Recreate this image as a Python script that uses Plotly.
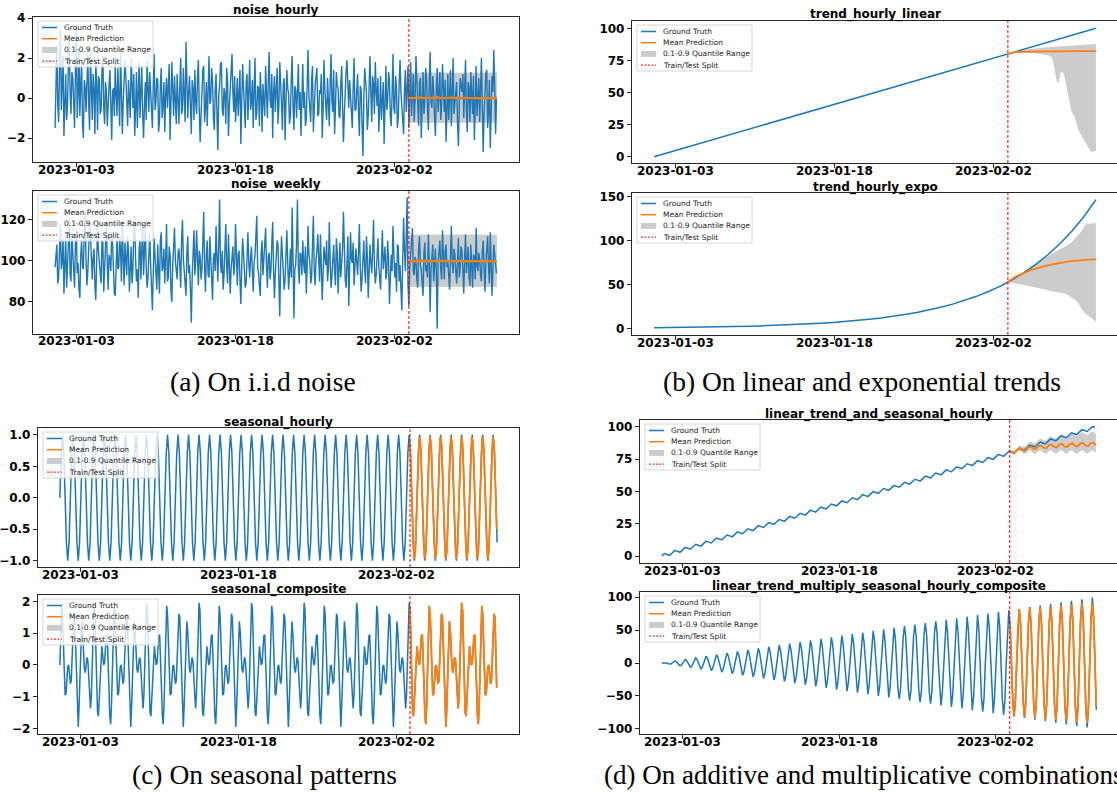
import pandas as pd
import plotly.graph_objects as go

# ---------------------------------------------------------------- data ----
START = "2023-01-01"
SPLIT_HOUR = 800
LAST_HOUR = 999
tick_dates = ["2023-01-03", "2023-01-18", "2023-02-02"]
legend_labels = ["Ground Truth", "Mean Prediction", "0.1-0.9 Quantile Range", "Train/Test Split"]
panel_titles = ["noise_hourly", "noise_weekly", "trend_hourly_linear", "trend_hourly_expo",
                "seasonal_hourly", "seasonal_composite", "linear_trend_and_seasonal_hourly",
                "linear_trend_multiply_seasonal_hourly_composite"]
captions = ["(a) On i.i.d noise", "(b) On linear and exponential trends",
            "(c) On seasonal patterns", "(d) On additive and multiplicative combinations"]

# noise_hourly: ground truth every 2 h from hour 0
noise_hourly_truth = [
    -1.5, 0.9, 2.6, -0.3, -1.2, 1.7, 3.4, -0.6, 0.8, 2.1, -1.9, 0.5, 1.2, -1.1, -0.4, 1.6, 2.9, 0.2, -0.8, 1.3,
    1.0, -0.2, -1.5, 1.4, 3.6, -1.0, 0.2, 2.4, -0.9, 0.7, 1.8, -1.3, -2.0, 0.9, 0.6, -0.7, 1.5, 2.2, -0.3, -1.6,
    2.3, 0.1, -1.1, 1.2, 0.4, -1.8, 1.9, 0.6, -1.6, 1.1, 0.9, -0.8, -0.6, 1.4, 2.1, -0.5, -1.3, 0.8, 0.3, -1.4,
    -0.7, 0.6, 1.4, -1.2, -2.1, 0.3, 0.5, -0.9, 1.7, 0.2, -0.9, 1.5, 0.1, -1.4, 2.4, 0.8, -1.8, -0.2, 0.7, 1.9,
    1.1, -0.3, -1.4, 0.9, 0.2, -1.0, 2.0, 0.4, -0.5, 1.2, -1.9, -0.6, 1.3, -1.5, 0.4, 1.8, -1.0, 0.1, 1.6, -0.8,
    -2.0, -0.4, 0.8, -1.1, 1.9, 0.5, -0.7, 1.3, 0.3, -0.9, -1.5, 0.7, 2.2, -0.6, -0.2, 1.0, 0.9, -1.7, -1.2, 0.6,
    1.5, -1.0, -0.4, 0.8, -1.7, 0.2, 1.0, -0.5, 0.6, 1.7, -2.1, -0.3, 1.8, 0.4, -0.9, 1.1, 0.2, -1.3, 1.2, 0.3,
    -1.3, 0.5, 2.0, -0.8, -0.6, 1.5, 0.4, -1.2, 2.8, 0.7, -1.0, 0.3, 1.1, -0.4, -1.8, 0.9, 0.5, -1.1, 1.4, -0.2,
    -0.8, 1.1, 1.9, -0.6, -2.2, -0.9, 0.3, 1.4, 1.6, -1.2, -0.5, 0.8, -1.4, 0.2, 2.1, -0.3, -0.1, 1.5, 0.9, -1.0,
    -1.6, 0.4, 1.2, -0.8, -2.6, 0.1, 0.6, 1.7, 1.8, -0.6, -0.9, 0.5, 0.2, -1.3, 1.5, 0.8, -1.9, -0.4, 0.4, 1.3,
    2.2, 0.3, -0.7, 1.1, -1.2, -0.2, 1.0, -0.9, 0.3, 1.4, -2.3, -0.5, 1.7, 0.6, -0.4, -1.5, 0.8, 1.2, -1.1, 0.1,
    1.9, -0.6, -0.2, 0.9, -1.5, 0.4, 2.0, -1.1, -0.8, 0.6, 0.5, -1.4, 1.3, 0.2, -1.7, 0.7, 0.1, -0.9, 1.6, 0.3,
    -1.0, 0.8, 2.3, -0.1, -0.5, 1.2, -2.0, 0.3, 1.1, -0.7, 0.6, 1.5, -1.3, -0.4, 1.8, 0.2, -0.3, -1.6, 0.7, 1.0,
    -2.1, -0.2, 1.4, 0.5, 0.2, -1.3, -0.9, 0.9, 2.1, -0.4, -1.6, 0.6, 0.4, -1.0, 1.2, 1.7, -0.6, 0.3, -1.9, 0.8,
    1.7, -0.5, 0.3, -1.4, -1.1, 0.7, 2.4, 0.1, -0.4, -1.2, 0.9, 1.6, -1.7, -0.3, 0.6, 1.1, 1.5, -0.9, -0.8, 0.4,
    0.2, 1.2, -2.0, -0.6, 1.9, 0.4, -0.3, -1.1, 1.0, 0.1, -1.4, 0.8, 2.2, -0.2, -0.7, 1.4, -1.8, -0.5, 1.3, 0.6,
    0.5, -0.9, -1.0, 0.7, 1.6, -0.4, -2.2, -0.8, 0.8, 1.3, 1.9, -0.1, -0.5, 0.9, 0.1, -1.2, -1.5, 0.5, 2.0, -0.6,
    -0.6, 0.3, 1.2, -0.7, -1.9, 0.6, 0.4, -1.3, -2.9, -0.2, 1.5, 0.9, 0.3, -1.6, -0.9, 0.5, 2.1, 0.2, -1.2, 1.1,
    0.7, -0.8, 1.8, 0.4, -0.4, 1.0, -1.7, -0.5, 1.1, -1.1, 0.2, 0.8, -2.3, 0.1, 1.6, -0.6, -0.1, 1.3, 0.9, -0.9,
    -1.4, 0.2, 2.2, -0.5, -0.8, 1.1, 0.5, -1.5, -1.0, 0.7, 1.9, 0.3, -0.3, -1.2, -1.8, 0.4, 1.4, -0.7, 0.6, 1.6,
    -1.5, 0.6, 1.8, -0.9, 0.1, 1.2, -1.2, -0.1, 2.1, 0.5, -0.6, -1.4, 0.8, 1.0, -2.0, 0.3, 1.3, -0.8, -0.2, 1.5,
    0.9, -0.4, -1.6, 0.7, 2.3, -0.2, -0.5, 1.1, 0.4, -1.0, -1.9, 0.5, 1.5, -0.7, 0.2, 1.3, -1.1, -0.3, 1.7, 0.1,
    -0.7, 0.9, -2.2, -0.6, 1.2, -1.1, 0.6, 1.4, -1.4, 0.2, 2.0, -0.8, -0.3, 0.5, 0.8, -1.3, -2.4, -0.2, 1.0, 0.6,
    0.3, 1.2, -1.0, 0.4, 1.9, -0.6, -1.7, 0.8, 0.5, -1.2, 1.3, 0.2, -0.8, 1.1, -2.1, -0.4, 1.6, -0.9, 0.1, 1.0,
    -1.2, 0.5, 2.0, -0.3, -2.7, -0.8, 0.7, 1.2, 1.4, -1.5, -0.6, 0.9, -2.5, -0.4, 1.1, 0.3, 2.4, 0.6, -1.8, 0.0,
]
# test-period arrays every 8 h from hour 799
noise_hourly_pred = [0.02, -0.01, 0.0, 0.03, 0.01, -0.02, 0.0, 0.02, 0.03, 0.01, -0.01, 0.0, 0.02,
                     0.01, -0.02, -0.01, 0.0, 0.01, 0.02, 0.0, -0.02, -0.01, 0.01, 0.02, 0.0, 0.01]
noise_hourly_hi = [1.27, 1.28, 1.27, 1.26, 1.27, 1.28, 1.27, 1.27, 1.26, 1.27, 1.28, 1.27, 1.27,
                   1.26, 1.27, 1.27, 1.28, 1.27, 1.26, 1.27, 1.27, 1.28, 1.27, 1.27, 1.26, 1.27]
noise_hourly_lo = [-1.24, -1.23, -1.24, -1.25, -1.24, -1.23, -1.24, -1.24, -1.25, -1.24, -1.23, -1.24, -1.24,
                   -1.25, -1.24, -1.24, -1.23, -1.24, -1.25, -1.24, -1.24, -1.23, -1.24, -1.24, -1.25, -1.24]

# noise_weekly: ground truth every 2 h from hour 0
noise_weekly_truth = [
    97, 104, 108, 89, 92, 106, 118, 96, 100, 111, 84, 99, 112, 87, 95, 108, 121, 93, 90, 113,
    104, 91, 87, 109, 115, 94, 99, 86, 82, 103, 110, 97, 96, 114, 124, 101, 88, 95, 103, 117,
    113, 97, 91, 102, 106, 88, 81, 99, 117, 105, 98, 92, 89, 110, 109, 85, 94, 107, 119, 98,
    86, 103, 101, 95, 114, 108, 93, 84, 83, 100, 111, 96, 97, 112, 105, 90, 120, 102, 88, 109,
    99, 93, 112, 104, 85, 98, 107, 89, 96, 115, 122, 101, 90, 96, 82, 106, 110, 91, 102, 118,
    93, 105, 116, 97, 87, 92, 104, 113, 99, 88, 76, 94, 111, 102, 95, 86, 108, 99, 84, 110,
    114, 95, 97, 106, 89, 101, 118, 90, 92, 107, 103, 85, 80, 98, 109, 116, 100, 93, 91, 104,
    106, 98, 87, 110, 120, 101, 95, 89, 83, 104, 112, 94, 98, 87, 70, 92, 107, 115, 93, 100,
    115, 96, 88, 105, 102, 91, 96, 109, 124, 97, 85, 103, 110, 93, 92, 112, 99, 86, 81, 101,
    104, 95, 117, 102, 90, 108, 130, 99, 94, 105, 86, 93, 108, 118, 97, 89, 113, 100, 84, 96,
    101, 107, 93, 98, 118, 94, 88, 103, 105, 91, 79, 97, 111, 104, 96, 87, 89, 108, 114, 99,
    92, 101, 107, 95, 85, 99, 103, 112, 122, 97, 94, 88, 83, 104, 110, 93, 99, 106, 116, 98,
    87, 102, 104, 91, 95, 108, 119, 96, 82, 94, 100, 110, 108, 89, 73, 98, 112, 103, 97, 86,
    91, 104, 115, 99, 86, 95, 106, 92, 126, 101, 72, 96, 98, 109, 130, 97, 89, 104, 103, 93,
    110, 99, 94, 107, 84, 97, 117, 103, 100, 89, 92, 108, 122, 95, 88, 101, 105, 113, 96, 90,
    113, 97, 81, 94, 107, 102, 98, 110, 90, 96, 119, 100, 87, 93, 102, 108, 95, 88, 111, 104,
    84, 99, 109, 92, 97, 106, 124, 98, 91, 87, 103, 112, 78, 95, 114, 101, 99, 109, 88, 97,
    106, 100, 93, 104, 118, 97, 85, 91, 101, 110, 96, 89, 112, 103, 82, 95, 108, 99, 94, 105,
    120, 98, 89, 93, 104, 111, 97, 88, 86, 102, 115, 96, 100, 107, 91, 94, 110, 101, 79, 99,
    103, 95, 117, 104, 92, 99, 85, 108, 107, 90, 98, 86, 76, 100, 121, 106, 95, 112, 131, 88,
    78, 97, 104, 108, 116, 95, 93, 102, 100, 91, 87, 106, 112, 98, 96, 89, 83, 104, 109, 95,
    98, 92, 113, 100, 75, 96, 101, 108, 90, 103, 106, 94, 67, 99, 104, 110, 96, 91, 115, 101,
    91, 105, 108, 97, 100, 93, 86, 102, 117, 99, 94, 106, 103, 95, 89, 100, 111, 92, 97, 107,
    105, 96, 84, 101, 113, 94, 99, 107, 92, 88, 108, 100, 87, 103, 102, 91, 116, 98, 95, 104,
    101, 93, 90, 105, 110, 97, 85, 99, 106, 112, 97, 89, 114, 101, 83, 96, 108, 103, 99, 94,
]
noise_weekly_pred = [99.9, 100.0, 99.9, 99.9, 100.0, 99.9, 99.8, 99.9, 99.9, 100.0, 99.9, 99.9, 99.9,
                     99.8, 99.9, 99.9, 100.0, 99.9, 99.9, 99.9, 99.8, 99.9, 99.9, 100.0, 99.9, 99.9]
noise_weekly_hi = [112.8, 112.7, 112.8, 112.9, 112.8, 112.7, 112.8, 112.8, 112.9, 112.8, 112.7, 112.8, 112.8,
                   112.9, 112.8, 112.7, 112.8, 112.8, 112.9, 112.8, 112.8, 112.7, 112.8, 112.8, 112.9, 112.8]
noise_weekly_lo = [87.3, 87.2, 87.3, 87.4, 87.3, 87.2, 87.3, 87.3, 87.4, 87.3, 87.2, 87.3, 87.3,
                   87.4, 87.3, 87.2, 87.3, 87.3, 87.4, 87.3, 87.3, 87.2, 87.3, 87.3, 87.4, 87.3]

# trend_hourly_linear: truth every 27 h from hour 0
linear_truth = [0.0, 2.7, 5.4, 8.1, 10.8, 13.5, 16.2, 18.9, 21.6, 24.3, 27.0, 29.7, 32.4,
                35.1, 37.8, 40.5, 43.2, 45.9, 48.6, 51.4, 54.1, 56.8, 59.5, 62.2, 64.9, 67.6,
                70.3, 73.0, 75.7, 78.4, 81.1, 83.8, 86.5, 89.2, 91.9, 94.6, 97.3, 100.0]
# mean every 8 h from hour 799
linear_pred = [79.9, 80.8, 81.3, 81.6, 81.7, 81.8, 81.8, 81.9, 81.9, 81.9, 81.9, 82.0, 82.0,
               82.0, 82.1, 82.2, 82.2, 82.2, 82.2, 82.2, 82.2, 82.2, 82.2, 82.2, 82.2, 82.2]
# quantiles every 4 h from hour 799
linear_hi = [80.0, 80.6, 81.1, 81.5, 81.9, 82.2, 82.5, 82.7, 82.9, 83.1,
             83.3, 83.5, 83.6, 83.8, 83.9, 84.1, 84.2, 84.4, 84.5, 84.7,
             84.8, 85.0, 85.1, 85.2, 85.4, 85.5, 85.6, 85.7, 85.9, 86.0,
             86.1, 86.2, 86.3, 86.4, 86.5, 86.6, 86.7, 86.8, 86.9, 87.0,
             87.1, 87.2, 87.2, 87.3, 87.4, 87.5, 87.5, 87.6, 87.6, 87.7, 87.7]
linear_lo = [79.9, 80.2, 80.5, 80.7, 80.9, 81.0, 81.0, 81.0, 81.0, 80.9,
             80.9, 80.8, 80.8, 80.7, 80.6, 80.5, 80.4, 80.3, 80.2, 80.0,
             79.8, 79.6, 79.3, 79.0, 78.5, 77.0, 73.0, 65.0, 58.0, 58.0,
             65.5, 66.0, 64.0, 57.0, 50.0, 40.0, 36.0, 33.5, 31.0, 26.0,
             21.0, 18.5, 16.0, 13.5, 11.5, 9.5, 6.0, 4.5, 3.5, 4.5, 4.0]

# trend_hourly_expo: truth every 27 h from hour 0
expo_truth = [0.88, 1.00, 1.15, 1.33, 1.52, 1.75, 2.01, 2.31, 2.65, 3.04, 3.49, 4.01, 4.61,
              5.29, 6.08, 6.98, 8.02, 9.21, 10.6, 12.1, 13.9, 16.0, 18.4, 21.1, 24.2, 27.8,
              32.0, 36.7, 42.2, 48.4, 55.6, 63.9, 73.4, 84.3, 96.8, 111.2, 127.7, 146.7]
# mean and quantiles every 8 h from hour 799
expo_pred = [52.8, 56.0, 58.3, 60.4, 62.3, 64.0, 65.6, 67.0, 68.3, 69.5, 70.6, 71.6, 72.5,
             73.4, 74.2, 74.9, 75.6, 76.2, 76.7, 77.2, 77.6, 78.0, 78.3, 78.6, 78.8, 78.7]
expo_hi = [52.8, 55.3, 57.8, 60.3, 62.8, 65.3, 67.8, 70.5, 73.2, 76.0, 78.9, 81.8, 84.2,
           86.4, 88.5, 90.6, 92.6, 95.0, 98.0, 102.0, 106.0, 111.0, 118.5, 119.5, 120.0, 120.0]
expo_lo = [52.8, 52.5, 51.5, 50.8, 50.2, 49.5, 48.5, 47.5, 46.5, 45.5, 44.5, 43.8, 43.0,
           42.2, 41.5, 40.8, 40.0, 38.5, 36.0, 33.0, 29.0, 22.0, 17.0, 14.0, 11.0, 8.0]

# seasonal_hourly: truth every 3 h from hour 0
seasonal_hourly_truth = [
    0, 0.71, 1, 0.71, 0, -0.71, -1, -0.71, 0, 0.71, 1, 0.71, 0, -0.71, -1, -0.71,
    0, 0.71, 1, 0.71, 0, -0.71, -1, -0.71, 0, 0.71, 1, 0.71, 0, -0.71, -1, -0.71,
    0, 0.71, 1, 0.71, 0, -0.71, -1, -0.71, 0, 0.71, 1, 0.71, 0, -0.71, -1, -0.71,
    0, 0.71, 1, 0.71, 0, -0.71, -1, -0.71, 0, 0.71, 1, 0.71, 0, -0.71, -1, -0.71,
    0, 0.71, 1, 0.71, 0, -0.71, -1, -0.71, 0, 0.71, 1, 0.71, 0, -0.71, -1, -0.71,
    0, 0.71, 1, 0.71, 0, -0.71, -1, -0.71, 0, 0.71, 1, 0.71, 0, -0.71, -1, -0.71,
    0, 0.71, 1, 0.71, 0, -0.71, -1, -0.71, 0, 0.71, 1, 0.71, 0, -0.71, -1, -0.71,
    0, 0.71, 1, 0.71, 0, -0.71, -1, -0.71, 0, 0.71, 1, 0.71, 0, -0.71, -1, -0.71,
    0, 0.71, 1, 0.71, 0, -0.71, -1, -0.71, 0, 0.71, 1, 0.71, 0, -0.71, -1, -0.71,
    0, 0.71, 1, 0.71, 0, -0.71, -1, -0.71, 0, 0.71, 1, 0.71, 0, -0.71, -1, -0.71,
    0, 0.71, 1, 0.71, 0, -0.71, -1, -0.71, 0, 0.71, 1, 0.71, 0, -0.71, -1, -0.71,
    0, 0.71, 1, 0.71, 0, -0.71, -1, -0.71, 0, 0.71, 1, 0.71, 0, -0.71, -1, -0.71,
    0, 0.71, 1, 0.71, 0, -0.71, -1, -0.71, 0, 0.71, 1, 0.71, 0, -0.71, -1, -0.71,
    0, 0.71, 1, 0.71, 0, -0.71, -1, -0.71, 0, 0.71, 1, 0.71, 0, -0.71, -1, -0.71,
    0, 0.71, 1, 0.71, 0, -0.71, -1, -0.71, 0, 0.71, 1, 0.71, 0, -0.71, -1, -0.71,
    0, 0.71, 1, 0.71, 0, -0.71, -1, -0.71, 0, 0.71, 1, 0.71, 0, -0.71, -1, -0.71,
    0, 0.71, 1, 0.71, 0, -0.71, -1, -0.71, 0, 0.71, 1, 0.71, 0, -0.71, -1, -0.71,
    0, 0.71, 1, 0.71, 0, -0.71, -1, -0.71, 0, 0.71, 1, 0.71, 0, -0.71, -1, -0.71,
    0, 0.71, 1, 0.71, 0, -0.71, -1, -0.71, 0, 0.71, 1, 0.71, 0, -0.71, -1, -0.71,
    0, 0.71, 1, 0.71, 0, -0.71, -1, -0.71, 0, 0.71, 1, 0.71, 0, -0.71, -1, -0.71,
    0, 0.71, 1, 0.71, 0, -0.71, -1, -0.71,
    0, 0.71, 1, 0.71, 0, -0.71,
]
# mean every 3 h from hour 800
seasonal_hourly_pred = [
    0.87, 0.26, -0.5, -0.97, -0.87, -0.26, 0.5, 0.97, 0.87, 0.26, -0.5, -0.97, -0.87, -0.26, 0.5, 0.97,
    0.87, 0.26, -0.5, -0.97, -0.87, -0.26, 0.5, 0.97, 0.87, 0.26, -0.5, -0.97, -0.87, -0.26, 0.5, 0.97,
    0.87, 0.26, -0.5, -0.97, -0.87, -0.26, 0.5, 0.97, 0.87, 0.26, -0.5, -0.97, -0.87, -0.26, 0.5, 0.97,
    0.87, 0.26, -0.5, -0.97, -0.87, -0.26, 0.5, 0.97, 0.87, 0.26, -0.5, -0.97, -0.87, -0.26, 0.5, 0.97,
    0.87, 0.26, -0.5,
]

# seasonal_composite: truth every 2 h from hour 0
seasonal_composite_truth = [
    0, 1.24, 1.86, 1.59, 0.66, -0.37, -0.95, -0.91, -0.46, -0.05,
    0, -0.29, -0.59, -0.49, 0.12, 1.0, 1.61, 1.49, 0.59, -0.71,
    -1.73, -1.95, -1.27, -0.09, 0.95, 1.37, 1.07, 0.41, -0.13, -0.24,
    0, 0.24, 0.13, -0.41, -1.07, -1.37, -0.95, 0.09, 1.27, 1.95,
    1.73, 0.71, -0.59, -1.49, -1.61, -1.0, -0.12, 0.49, 0.59, 0.29,
    0, 0.05, 0.46, 0.91, 0.95, 0.37, -0.66, -1.59, -1.86, -1.24,
    0, 1.24, 1.86, 1.59, 0.66, -0.37, -0.95, -0.91, -0.46, -0.05,
    0, -0.29, -0.59, -0.49, 0.12, 1.0, 1.61, 1.49, 0.59, -0.71,
    -1.73, -1.95, -1.27, -0.09, 0.95, 1.37, 1.07, 0.41, -0.13, -0.24,
    0, 0.24, 0.13, -0.41, -1.07, -1.37, -0.95, 0.09, 1.27, 1.95,
    1.73, 0.71, -0.59, -1.49, -1.61, -1.0, -0.12, 0.49, 0.59, 0.29,
    0, 0.05, 0.46, 0.91, 0.95, 0.37, -0.66, -1.59, -1.86, -1.24,
    0, 1.24, 1.86, 1.59, 0.66, -0.37, -0.95, -0.91, -0.46, -0.05,
    0, -0.29, -0.59, -0.49, 0.12, 1.0, 1.61, 1.49, 0.59, -0.71,
    -1.73, -1.95, -1.27, -0.09, 0.95, 1.37, 1.07, 0.41, -0.13, -0.24,
    0, 0.24, 0.13, -0.41, -1.07, -1.37, -0.95, 0.09, 1.27, 1.95,
    1.73, 0.71, -0.59, -1.49, -1.61, -1.0, -0.12, 0.49, 0.59, 0.29,
    0, 0.05, 0.46, 0.91, 0.95, 0.37, -0.66, -1.59, -1.86, -1.24,
    0, 1.24, 1.86, 1.59, 0.66, -0.37, -0.95, -0.91, -0.46, -0.05,
    0, -0.29, -0.59, -0.49, 0.12, 1.0, 1.61, 1.49, 0.59, -0.71,
    -1.73, -1.95, -1.27, -0.09, 0.95, 1.37, 1.07, 0.41, -0.13, -0.24,
    0, 0.24, 0.13, -0.41, -1.07, -1.37, -0.95, 0.09, 1.27, 1.95,
    1.73, 0.71, -0.59, -1.49, -1.61, -1.0, -0.12, 0.49, 0.59, 0.29,
    0, 0.05, 0.46, 0.91, 0.95, 0.37, -0.66, -1.59, -1.86, -1.24,
    0, 1.24, 1.86, 1.59, 0.66, -0.37, -0.95, -0.91, -0.46, -0.05,
    0, -0.29, -0.59, -0.49, 0.12, 1.0, 1.61, 1.49, 0.59, -0.71,
    -1.73, -1.95, -1.27, -0.09, 0.95, 1.37, 1.07, 0.41, -0.13, -0.24,
    0, 0.24, 0.13, -0.41, -1.07, -1.37, -0.95, 0.09, 1.27, 1.95,
    1.73, 0.71, -0.59, -1.49, -1.61, -1.0, -0.12, 0.49, 0.59, 0.29,
    0, 0.05, 0.46, 0.91, 0.95, 0.37, -0.66, -1.59, -1.86, -1.24,
    0, 1.24, 1.86, 1.59, 0.66, -0.37, -0.95, -0.91, -0.46, -0.05,
    0, -0.29, -0.59, -0.49, 0.12, 1.0, 1.61, 1.49, 0.59, -0.71,
    -1.73, -1.95, -1.27, -0.09, 0.95, 1.37, 1.07, 0.41, -0.13, -0.24,
    0, 0.24, 0.13, -0.41, -1.07, -1.37, -0.95, 0.09, 1.27, 1.95,
    1.73, 0.71, -0.59, -1.49, -1.61, -1.0, -0.12, 0.49, 0.59, 0.29,
    0, 0.05, 0.46, 0.91, 0.95, 0.37, -0.66, -1.59, -1.86, -1.24,
    0, 1.24, 1.86, 1.59, 0.66, -0.37, -0.95, -0.91, -0.46, -0.05,
    0, -0.29, -0.59, -0.49, 0.12, 1.0, 1.61, 1.49, 0.59, -0.71,
    -1.73, -1.95, -1.27, -0.09, 0.95, 1.37, 1.07, 0.41, -0.13, -0.24,
    0, 0.24, 0.13, -0.41, -1.07, -1.37, -0.95, 0.09, 1.27, 1.95,
    1.73, 0.71, -0.59, -1.49, -1.61, -1.0, -0.12, 0.49, 0.59, 0.29,
    0, 0.05, 0.46, 0.91, 0.95, 0.37, -0.66, -1.59, -1.86, -1.24,
    0, 1.24, 1.86, 1.59, 0.66, -0.37, -0.95, -0.91, -0.46, -0.05,
    0, -0.29, -0.59, -0.49, 0.12, 1.0, 1.61, 1.49, 0.59, -0.71,
    -1.73, -1.95, -1.27, -0.09, 0.95, 1.37, 1.07, 0.41, -0.13, -0.24,
    0, 0.24, 0.13, -0.41, -1.07, -1.37, -0.95, 0.09, 1.27, 1.95,
    1.73, 0.71, -0.59, -1.49, -1.61, -1.0, -0.12, 0.49, 0.59, 0.29,
    0, 0.05, 0.46, 0.91, 0.95, 0.37, -0.66, -1.59, -1.86, -1.24,
    0, 1.24, 1.86, 1.59, 0.66, -0.37, -0.95, -0.91, -0.46, -0.05,
    0, -0.29, -0.59, -0.49, 0.12, 1.0, 1.61, 1.49, 0.59, -0.71,
]
# mean every 2 h from hour 800
seasonal_composite_pred = [
    1.73, 0.71, -0.59, -1.49, -1.61, -1.0, -0.12, 0.49, 0.59, 0.29,
    0, 0.05, 0.46, 0.91, 0.95, 0.37, -0.66, -1.59, -1.86, -1.24,
    0, 1.24, 1.86, 1.59, 0.66, -0.37, -0.95, -0.91, -0.46, -0.05,
    0, -0.29, -0.59, -0.49, 0.12, 1.0, 1.61, 1.49, 0.59, -0.71,
    -1.73, -1.95, -1.27, -0.09, 0.95, 1.37, 1.07, 0.41, -0.13, -0.24,
    0, 0.24, 0.13, -0.41, -1.07, -1.37, -0.95, 0.09, 1.27, 1.95,
    1.73, 0.71, -0.59, -1.49, -1.61, -1.0, -0.12, 0.49, 0.59, 0.29,
    0, 0.05, 0.46, 0.91, 0.95, 0.37, -0.66, -1.59, -1.86, -1.24,
    0, 1.24, 1.86, 1.59, 0.66, -0.37, -0.95, -0.91, -0.46, -0.05,
    0, -0.29, -0.59, -0.49, 0.12, 1.0, 1.61, 1.49, 0.59, -0.71,
]

# linear_trend_and_seasonal_hourly: truth every 6 h from hour 0
trend_seasonal_truth = [
    0.0, 1.9, 1.2, 0.5, 2.4, 4.3, 3.6, 2.9, 4.8, 6.7, 6.0, 5.3, 7.2, 9.1, 8.4, 7.7,
    9.6, 11.5, 10.8, 10.1, 12.0, 13.9, 13.2, 12.5, 14.4, 16.3, 15.6, 14.9, 16.8, 18.7, 18.0, 17.3,
    19.2, 21.1, 20.4, 19.7, 21.6, 23.5, 22.8, 22.1, 24.0, 25.9, 25.2, 24.5, 26.4, 28.3, 27.6, 26.9,
    28.8, 30.7, 30.0, 29.3, 31.2, 33.1, 32.4, 31.7, 33.6, 35.5, 34.8, 34.1, 36.0, 37.9, 37.2, 36.5,
    38.4, 40.3, 39.6, 38.9, 40.8, 42.7, 42.0, 41.3, 43.2, 45.1, 44.4, 43.7, 45.6, 47.5, 46.8, 46.1,
    48.0, 49.9, 49.2, 48.5, 50.4, 52.3, 51.6, 50.9, 52.8, 54.7, 54.0, 53.3, 55.2, 57.1, 56.4, 55.7,
    57.6, 59.5, 58.8, 58.1, 60.0, 61.9, 61.2, 60.5, 62.4, 64.3, 63.6, 62.9, 64.8, 66.7, 66.0, 65.3,
    67.2, 69.1, 68.4, 67.7, 69.6, 71.5, 70.8, 70.1, 72.0, 73.9, 73.2, 72.5, 74.4, 76.3, 75.6, 74.9,
    76.8, 78.7, 78.0, 77.3, 79.2, 81.1, 80.4, 79.7, 81.6, 83.5, 82.8, 82.1, 84.0, 85.9, 85.2, 84.5,
    86.4, 88.3, 87.6, 86.9, 88.8, 90.7, 90.0, 89.3, 91.2, 93.1, 92.4, 91.7, 93.6, 95.5, 94.8, 94.1,
    96.0, 97.9, 97.2, 96.5, 98.4, 100.3, 99.6,
]
# mean and quantiles every 6 h from hour 800
trend_seasonal_pred = [81.7, 80.2, 80.1, 82.6, 83.5, 81.9, 81.6, 84.0, 84.8, 83.0, 82.7, 85.0,
                       85.7, 83.9, 83.5, 85.8, 86.4, 84.6, 84.1, 86.3, 86.9, 85.0, 84.5, 86.7,
                       87.3, 85.4, 84.9, 87.1, 87.7, 85.7, 85.2, 87.4, 87.9, 86.0]
trend_seasonal_hi = [82.0, 81.0, 81.4, 84.4, 85.8, 84.7, 84.8, 87.6, 88.8, 87.4, 87.5, 90.1,
                     91.1, 89.6, 89.5, 92.1, 92.9, 91.3, 91.0, 93.4, 94.2, 92.5, 92.1, 94.5,
                     95.2, 93.4, 93.0, 95.3, 96.0, 94.1, 93.7, 96.0, 96.5, 94.7]
trend_seasonal_lo = [81.4, 79.5, 79.0, 81.1, 81.6, 79.7, 79.1, 81.2, 81.7, 79.7, 79.2, 81.3,
                     81.8, 79.8, 79.2, 81.3, 81.8, 79.9, 79.3, 81.4, 81.9, 79.9, 79.3, 81.4,
                     81.9, 79.9, 79.3, 81.4, 81.9, 79.8, 79.2, 81.4, 81.8, 79.8]

# linear_trend_multiply_seasonal_hourly_composite: truth every 3 h from hour 0
trend_mult_truth = [
    0, 0.2, 0.6, 0.6, 0, -1.1, -1.8, -1.5,
    0, 1.9, 3.0, 2.3, 0, -2.8, -4.2, -3.2,
    0, 3.6, 5.4, 4.0, 0, -4.5, -6.6, -4.9,
    0, 5.3, 7.8, 5.7, 0, -6.2, -9.0, -6.6,
    0, 7.0, 10.2, 7.4, 0, -7.8, -11.4, -8.3,
    0, 8.7, 12.6, 9.1, 0, -9.5, -13.8, -10.0,
    0, 10.4, 15.0, 10.8, 0, -11.2, -16.2, -11.7,
    0, 12.1, 17.4, 12.5, 0, -12.9, -18.6, -13.4,
    0, 13.8, 19.8, 14.2, 0, -14.6, -21.0, -15.1,
    0, 15.5, 22.2, 15.9, 0, -16.3, -23.4, -16.8,
    0, 17.2, 24.6, 17.6, 0, -18.0, -25.8, -18.5,
    0, 18.9, 27.0, 19.3, 0, -19.7, -28.2, -20.2,
    0, 20.6, 29.4, 21.0, 0, -21.4, -30.6, -21.8,
    0, 22.3, 31.8, 22.7, 0, -23.1, -33.0, -23.5,
    0, 24.0, 34.2, 24.4, 0, -24.8, -35.4, -25.2,
    0, 25.7, 36.6, 26.1, 0, -26.5, -37.8, -26.9,
    0, 27.4, 39.0, 27.8, 0, -28.2, -40.2, -28.6,
    0, 29.1, 41.4, 29.5, 0, -29.9, -42.6, -30.3,
    0, 30.8, 43.8, 31.2, 0, -31.6, -45.0, -32.0,
    0, 32.5, 46.2, 32.9, 0, -33.3, -47.4, -33.7,
    0, 34.1, 48.6, 34.6, 0, -35.0, -49.8, -35.4,
    0, 35.8, 51.0, 36.3, 0, -36.7, -52.2, -37.1,
    0, 37.5, 53.4, 38.0, 0, -38.4, -54.6, -38.8,
    0, 39.2, 55.8, 39.7, 0, -40.1, -57.0, -40.5,
    0, 40.9, 58.2, 41.4, 0, -41.8, -59.4, -42.2,
    0, 42.6, 60.6, 43.1, 0, -43.5, -61.8, -43.9,
    0, 44.3, 63.0, 44.8, 0, -45.2, -64.2, -45.6,
    0, 46.0, 65.4, 46.5, 0, -46.9, -66.6, -47.3,
    0, 47.7, 67.8, 48.2, 0, -48.6, -69.0, -49.0,
    0, 49.4, 70.2, 49.9, 0, -50.3, -71.4, -50.7,
    0, 51.1, 72.6, 51.6, 0, -52.0, -73.8, -52.4,
    0, 52.8, 75.0, 53.2, 0, -53.7, -76.2, -54.1,
    0, 54.5, 77.4, 54.9, 0, -55.4, -78.6, -55.8,
    0, 56.2, 79.8, 56.6, 0, -57.1, -81.0, -57.5,
    0, 57.9, 82.2, 58.3, 0, -58.8, -83.4, -59.2,
    0, 59.6, 84.6, 60.0, 0, -60.5, -85.8, -60.9,
    0, 61.3, 87.0, 61.7, 0, -62.2, -88.2, -62.6,
    0, 63.0, 89.4, 63.4, 0, -63.9, -90.6, -64.3,
    0, 64.7, 91.8, 65.1, 0, -65.6, -93.0, -66.0,
    0, 66.4, 94.2, 66.8, 0, -67.3, -95.4, -67.7,
    0, 68.1, 96.6, 68.5, 0, -69.0, -97.8, -69.4,
    0, 69.8, 99.0, 70.2, 0, -70.7,
]
# mean every 3 h from hour 801
trend_mult_pred = [
    56.6, 0, -56.9, -80.6, -57.1, 0, 57.4, 81.3, 57.6, 0, -57.9, -82.0, -58.1, 0, 58.4, 82.8,
    58.7, 0, -58.9, -83.5, -59.2, 0, 59.4, 84.2, 59.7, 0, -59.9, -85.0, -60.2, 0, 60.4, 85.7,
    60.7, 0, -61.0, -86.4, -61.2, 0, 61.5, 87.1, 61.7, 0, -62.0, -87.8, -62.2, 0, 62.5, 88.6,
    62.8, 0, -63.0, -89.3, -63.3, 0, 63.5, 90.0, 63.8, 0, -64.0, -90.7, -64.3, 0, 64.5, 91.5,
    64.8, 0, -65.1,
]

# ------------------------------------------------------------- styling ----
W, H = 1117, 792
BLUE, ORANGE, BAND, RED = "#1f77b4", "#ff7f0e", "#cccccc", "#ff0000"
FONT = "DejaVu Sans"
T0 = pd.Timestamp(START)
SPAN_H = LAST_HOUR  # hours covered by each series
PAD_H = 0.05 * SPAN_H


def stamps(first_hour, step_hours, values):
    return T0 + pd.to_timedelta([first_hour + step_hours * i for i in range(len(values))], unit="h")


# frame boxes in pixels: (left, top, right, bottom); right may run past the page edge
panels = [
    dict(box=(33, 17, 519, 162), yr=(-3.2, 4.05), yt=[-2, 0, 2, 4], fmt="d",
         truth=(0, 2, noise_hourly_truth), pred=(799, 8, noise_hourly_pred),
         band=(799, 8, noise_hourly_lo, noise_hourly_hi), pw=2.2, tw=1.4),
    dict(box=(33, 191, 519, 334), yr=(64.4, 134.1), yt=[80, 100, 120], fmt="d",
         truth=(0, 2, noise_weekly_truth), pred=(799, 8, noise_weekly_pred),
         band=(799, 8, noise_weekly_lo, noise_weekly_hi), pw=2.2, tw=1.4),
    dict(box=(632, 21, 1118, 163), yr=(-4.9, 105.7), yt=[0, 25, 50, 75, 100], fmt="d",
         truth=(0, 27, linear_truth), pred=(799, 8, linear_pred),
         band=(799, 4, linear_lo, linear_hi), pw=1.8, tw=1.5),
    dict(box=(632, 193, 1118, 335), yr=(-7.35, 154.4), yt=[0, 50, 100, 150], fmt="d",
         truth=(0, 27, expo_truth), pred=(799, 8, expo_pred),
         band=(799, 8, expo_lo, expo_hi), pw=1.8, tw=1.5),
    dict(box=(38, 428, 519, 567), yr=(-1.1, 1.11), yt=[-1, -0.5, 0, 0.5, 1], fmt=".1f",
         truth=(0, 3, seasonal_hourly_truth), pred=(800, 3, seasonal_hourly_pred),
         band=None, pw=1.8, tw=1.5),
    dict(box=(38, 595, 519, 734), yr=(-2.17, 2.2), yt=[-2, -1, 0, 1, 2], fmt="d",
         truth=(0, 2, seasonal_composite_truth), pred=(800, 2, seasonal_composite_pred),
         band=None, pw=1.8, tw=1.5),
    dict(box=(640, 420, 1118, 563), yr=(-5.4, 105.4), yt=[0, 25, 50, 75, 100], fmt="d",
         truth=(0, 6, trend_seasonal_truth), pred=(800, 6, trend_seasonal_pred),
         band=(800, 6, trend_seasonal_lo, trend_seasonal_hi), pw=1.8, tw=1.5),
    dict(box=(640, 592, 1118, 734), yr=(-107.6, 107.6), yt=[-100, -50, 0, 50, 100], fmt="d",
         truth=(0, 3, trend_mult_truth), pred=(801, 3, trend_mult_pred),
         band=None, pw=1.8, tw=1.5),
]

fig = go.Figure()
shapes, annotations = [], []
layout = {}


def px_x(x):
    return x / W


def px_y(y):
    return 1 - y / H


split_ts = T0 + pd.Timedelta(hours=SPLIT_HOUR)
end_ts = T0 + pd.Timedelta(hours=LAST_HOUR)
tick_font = dict(family=FONT, size=12, color="black", weight="bold")

for i, p in enumerate(panels, start=1):
    sfx = "" if i == 1 else str(i)
    xa, ya = "x" + sfx, "y" + sfx
    left, top, right, bottom = p["box"]
    shown_right = min(right, W)
    hours_per_px = (SPAN_H + 2 * PAD_H) / (right - left)
    cut_h = (right - shown_right) * hours_per_px
    x_range = [T0 - pd.Timedelta(hours=PAD_H), end_ts + pd.Timedelta(hours=PAD_H - cut_h)]

    if p["band"] is not None:
        b0, bstep, lo, hi = p["band"]
        bx = stamps(b0, bstep, lo)
        fig.add_trace(go.Scatter(x=bx, y=lo, mode="lines", line=dict(width=0, color=BAND),
                                 hoverinfo="skip", showlegend=False, xaxis=xa, yaxis=ya))
        fig.add_trace(go.Scatter(x=bx, y=hi, mode="lines", line=dict(width=0, color=BAND),
                                 fill="tonexty", fillcolor=BAND, showlegend=False,
                                 xaxis=xa, yaxis=ya))
    t0h, tstep, tv = p["truth"]
    fig.add_trace(go.Scatter(x=stamps(t0h, tstep, tv), y=tv, mode="lines",
                             line=dict(color=BLUE, width=p["tw"]), showlegend=False,
                             xaxis=xa, yaxis=ya))
    p0h, pstep, pv = p["pred"]
    fig.add_trace(go.Scatter(x=stamps(p0h, pstep, pv), y=pv, mode="lines",
                             line=dict(color=ORANGE, width=p["pw"]), showlegend=False,
                             xaxis=xa, yaxis=ya))

    axis_common = dict(showline=True, mirror=True, linecolor="#262626", linewidth=1.3,
                       showgrid=False, zeroline=False, ticks="outside", ticklen=4,
                       tickwidth=1, tickcolor="#262626", tickfont=tick_font)
    layout["xaxis" + sfx] = dict(axis_common, domain=[px_x(left), px_x(shown_right)],
                                 anchor=ya, type="date", range=x_range,
                                 tickvals=tick_dates, showticklabels=False)
    layout["yaxis" + sfx] = dict(axis_common, domain=[px_y(bottom), px_y(top)],
                                 anchor=xa, range=list(p["yr"]), tickvals=p["yt"],
                                 tickformat=p["fmt"])

    # date labels sit tight under the frame
    for d in tick_dates:
        annotations.append(dict(text=d, xref=xa, x=d, yref="paper", y=px_y(bottom - 1.5),
                                xanchor="center", yanchor="top", showarrow=False,
                                font=tick_font))

    # train/test split marker
    shapes.append(dict(type="line", xref=xa, yref=ya + " domain", x0=split_ts, x1=split_ts,
                       y0=0, y1=1, line=dict(color=RED, width=1, dash="3px,2px")))

    # subplot title, resting just above the frame
    annotations.append(dict(text=panel_titles[i - 1], xref="paper", yref="paper",
                            x=px_x((left + right) / 2), y=px_y(top), xanchor="center",
                            yanchor="bottom", showarrow=False, yshift=-3.5,
                            font=dict(family=FONT, size=12, color="black", weight="bold")))

    # legend box in the upper-left corner of each frame
    lx, ly = left + 5, top + 4
    shapes.append(dict(type="rect", xref="paper", yref="paper", layer="above",
                       x0=px_x(lx), x1=px_x(lx + 115), y0=px_y(ly + 46), y1=px_y(ly),
                       fillcolor="rgba(255,255,255,0.8)", line=dict(color="#d6d6d6", width=1)))
    for k, label in enumerate(legend_labels):
        cy = ly + 6.5 + k * 11.2
        if k == 2:
            shapes.append(dict(type="rect", xref="paper", yref="paper", layer="above",
                               x0=px_x(lx + 4), x1=px_x(lx + 19), y0=px_y(cy + 3), y1=px_y(cy - 3),
                               fillcolor=BAND, line=dict(width=0)))
        else:
            col = [BLUE, ORANGE, None, RED][k]
            dash = "2px,1.5px" if k == 3 else "solid"
            shapes.append(dict(type="line", xref="paper", yref="paper", layer="above",
                               x0=px_x(lx + 4), x1=px_x(lx + 19), y0=px_y(cy), y1=px_y(cy),
                               line=dict(color=col, width=1.5 if k < 3 else 1, dash=dash)))
        annotations.append(dict(text=label, xref="paper", yref="paper", x=px_x(lx + 24),
                                y=px_y(cy), xanchor="left", yanchor="middle", showarrow=False,
                                font=dict(family=FONT, size=7.5, color="#222222")))

# sub-figure captions: the upper pair is centred on its row, the lower pair rests on the page bottom
caption_pos = [(263, 381, "center", "middle", 27.5), (862, 381, "center", "middle", 27.5),
               (264, 792, "center", "bottom", 27.5), (602, 792, "left", "bottom", 27.0)]
for text, (cx, cy, xanc, yanc, size) in zip(captions, caption_pos):
    annotations.append(dict(text=text, xref="paper", yref="paper", x=px_x(cx), y=px_y(cy),
                            xanchor=xanc, yanchor=yanc, showarrow=False,
                            font=dict(family="Liberation Serif", size=size, color="black")))

fig.update_layout(template="none", width=W, height=H, margin=dict(l=0, r=0, t=0, b=0),
                  paper_bgcolor="white", plot_bgcolor="white", showlegend=False,
                  font=dict(family=FONT), shapes=shapes, annotations=annotations, **layout)
fig.write_html("out.html")
